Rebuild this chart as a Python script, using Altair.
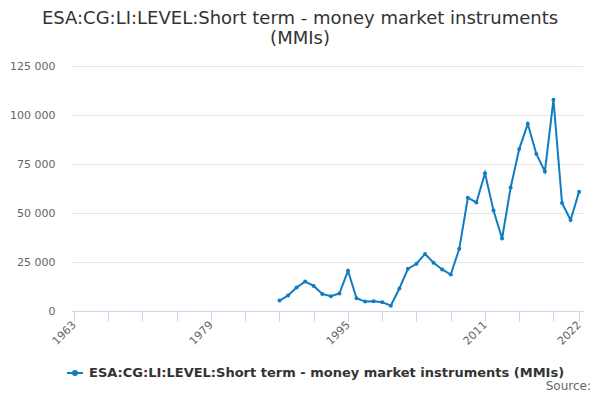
import altair as alt
import pandas as pd

series_name = "ESA:CG:LI:LEVEL:Short term - money market instruments (MMIs)"
title_lines = ["ESA:CG:LI:LEVEL:Short term - money market instruments", "(MMIs)"]

years = list(range(1987, 2023))
values = [
    5300, 7900, 12000, 15000, 12800, 8700, 7500, 8900, 20500, 6500,
    4800, 5000, 4500, 2700, 11500, 21500, 24100, 29100, 24600, 21200,
    18600, 31700, 57800, 55400, 70300, 51300, 37000, 63000, 82600, 95500,
    80100, 71200, 107800, 55100, 46400, 60900,
]

x_ticks = [1963, 1967, 1971, 1975, 1979, 1983, 1987, 1991, 1995, 1999,
           2003, 2007, 2011, 2015, 2019, 2022]
x_labels = [1963, 1979, 1995, 2011, 2022]
y_ticks = [0, 25000, 50000, 75000, 100000, 125000]

blue = "#107dc2"
font = "DejaVu Sans"

data = pd.DataFrame({"year": years, "value": values, "series": series_name})

# legend symbol: a short line with a dot in the middle
legend_symbol = "M-1,0L1,0M-0.25,0A0.25,0.25 0 1,1 0.25,0A0.25,0.25 0 1,1 -0.25,0Z"

line = alt.Chart(data).mark_line(
    strokeWidth=2,
    point=alt.OverlayMarkDef(filled=True, size=16, color=blue),
).encode(
    x=alt.X(
        "year:Q",
        scale=alt.Scale(domain=[1962.65, 2022.45], nice=False, zero=False),
        axis=alt.Axis(
            title=None,
            values=x_ticks,
            format="d",
            labelExpr="indexof(%s, datum.value) >= 0 ? datum.label : ''" % str(x_labels),
            labelAngle=-45,
            labelAlign="right",
            labelBaseline="middle",
            labelOverlap=False,
            labelFontSize=11,
            labelColor="#666666",
            labelPadding=2,
            tickSize=10,
            tickColor="#ccd6eb",
            domainColor="#ccd6eb",
            grid=False,
        ),
    ),
    y=alt.Y(
        "value:Q",
        scale=alt.Scale(domain=[0, 125000], nice=False),
        axis=alt.Axis(
            title=None,
            values=y_ticks,
            labelExpr="replace(format(datum.value, ','), ',', ' ')",
            labelFontSize=11,
            labelColor="#666666",
            labelPadding=16,
            ticks=False,
            domain=False,
            gridColor="#e6e6e6",
        ),
    ),
    color=alt.Color(
        "series:N",
        scale=alt.Scale(range=[blue]),
        legend=alt.Legend(
            title=None,
            orient="none",
            legendX=-5,
            legendY=298,
            symbolType=legend_symbol,
            symbolSize=256,
            symbolStrokeWidth=2,
            symbolFillColor=blue,
            symbolStrokeColor=blue,
            labelFont=font,
            labelFontSize=13,
            labelFontWeight="bold",
            labelColor="#333333",
            labelLimit=0,
            labelOffset=5,
            padding=0,
        ),
    ),
)

source = alt.Chart(pd.DataFrame({"t": ["Source:"]})).mark_text(
    align="right", baseline="middle", fontSize=12, font=font, color="#666666"
).encode(text="t:N", x=alt.value(520), y=alt.value(320))

chart = (line + source).properties(
    width=512,
    height=245,
    autosize=alt.AutoSizeParams(type="none"),
    padding={"left": 63, "top": 58, "right": 9, "bottom": 81},
    title=alt.TitleParams(
        text=title_lines,
        anchor="middle",
        dx=-27,
        offset=12,
        fontSize=18,
        fontWeight="normal",
        font=font,
        color="#333333",
        lineHeight=20,
    ),
).configure_view(stroke=None).configure_axis(labelFont=font)

chart.save("out.html", embed_options={"renderer": "svg", "actions": False})
